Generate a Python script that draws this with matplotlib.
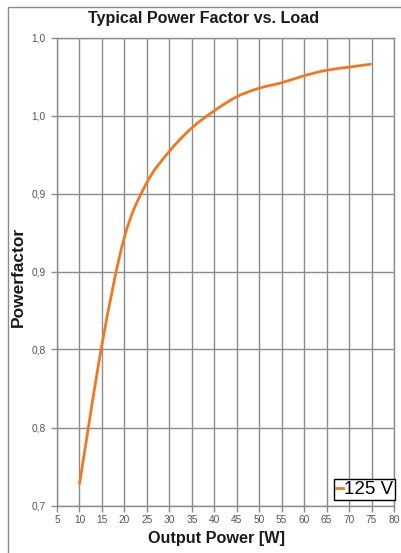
import matplotlib
matplotlib.use("Agg")
import matplotlib.pyplot as plt
from matplotlib.patches import Rectangle, PathPatch
from matplotlib.path import Path
from matplotlib.lines import Line2D

# Data
output_power = [10, 15, 20, 25, 30, 35, 40, 45, 50, 55, 60, 65, 70, 75]
power_factor = [0.7135, 0.803, 0.872, 0.907, 0.927, 0.942, 0.953, 0.962,
                0.9675, 0.971, 0.9755, 0.979, 0.981, 0.983]
series_label = "125 V"
x_ticks = list(range(5, 81, 5))
y_ticks = [0.70, 0.75, 0.80, 0.85, 0.90, 0.95, 1.00]
y_tick_labels = ["0,7", "0,8", "0,8", "0,9", "0,9", "1,0", "1,0"]

plt.rcParams['font.family'] = ['Liberation Sans', 'DejaVu Sans']
LINE_COLOR = '#f07820'

W, H = 401, 553
fig = plt.figure(figsize=(W / 100, H / 100), dpi=100)
fig.patch.set_facecolor('white')

# outer chart border (left and top visible)
fig.add_artist(Rectangle((7.5 / W, -0.01), 1.05, 1 - 7 / H + 0.01, transform=fig.transFigure,
                         fill=False, edgecolor='#8c8c8c', linewidth=1.0))

left, right, top, bottom = 57, 394, 37.5, 505.5
ax = fig.add_axes([left / W, 1 - bottom / H, (right - left) / W, (bottom - top) / H])


def smooth_path(xs, ys):
    """Excel-style smoothed line: cubic Bezier segments through the data points."""
    n = len(xs)
    verts = [(xs[0], ys[0])]
    codes = [Path.MOVETO]
    for i in range(n - 1):
        x0, y0 = xs[max(i - 1, 0)], ys[max(i - 1, 0)]
        x1, y1 = xs[i], ys[i]
        x2, y2 = xs[i + 1], ys[i + 1]
        x3, y3 = xs[min(i + 2, n - 1)], ys[min(i + 2, n - 1)]
        c1 = (x1 + (x2 - x0) / 6.0, y1 + (y2 - y0) / 6.0)
        c2 = (x2 - (x3 - x1) / 6.0, y2 - (y3 - y1) / 6.0)
        verts += [c1, c2, (x2, y2)]
        codes += [Path.CURVE4, Path.CURVE4, Path.CURVE4]
    return Path(verts, codes)


ax.add_patch(PathPatch(smooth_path(output_power, power_factor), facecolor='none',
                       edgecolor=LINE_COLOR, linewidth=2.0, transform=ax.transData,
                       capstyle='butt', joinstyle='round'))
ax.set_xlim(5, 80)
ax.set_ylim(0.70, 1.00)
ax.set_xticks(x_ticks)
ax.set_xticklabels([str(v) for v in x_ticks])
ax.set_yticks(y_ticks)
ax.set_yticklabels(y_tick_labels)
ax.grid(True, color='#8c8c8c', linewidth=1.0)
ax.set_axisbelow(True)
for s in ax.spines.values():
    s.set_color('#8c8c8c')
    s.set_linewidth(1.0)
ax.tick_params(axis='both', colors='#8c8c8c', labelcolor='#555555', labelsize=7.3,
               length=4, width=1.0, direction='out')
ax.tick_params(axis='x', pad=3)
ax.tick_params(axis='y', pad=4)

fig.text(204 / W, 1 - 18.5 / H, "Typical Power Factor vs. Load", ha='center', va='center',
         fontsize=11.6, fontweight='bold', color='#1a1a1a')
fig.text(216 / W, 1 - 539 / H, "Output Power [W]", ha='center', va='center',
         fontsize=11.7, fontweight='bold', color='#1a1a1a')
fig.text(18.5 / W, 1 - 277 / H, "Powerfactor", ha='center', va='center', rotation=90,
         fontsize=12.5, fontweight='bold', color='#1a1a1a')

leg = ax.legend([Line2D([], [], color=LINE_COLOR, linewidth=2.0)], [series_label],
                loc='lower right', bbox_to_anchor=((394.5 - left) / (right - left), (bottom - 500) / (bottom - top)),
                frameon=True, fancybox=False, fontsize=13.5, handlelength=0.35,
                handletextpad=0.05, borderpad=0.1, borderaxespad=0.0, labelspacing=0)
leg.get_frame().set_edgecolor('black')
leg.get_frame().set_linewidth(1.0)
leg.get_frame().set_facecolor('white')
leg.get_frame().set_alpha(1.0)

fig.savefig("out.png", dpi=100, facecolor='white')
